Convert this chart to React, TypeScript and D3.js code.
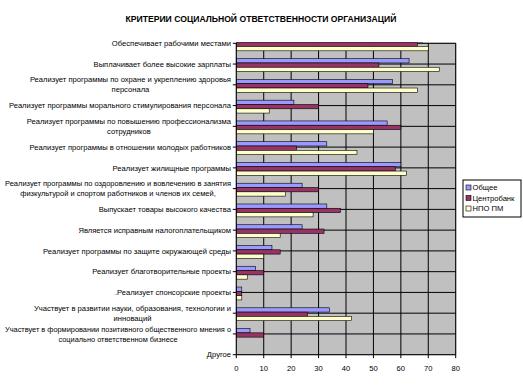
import React from 'react';
import * as d3 from 'd3';

// категории сверху вниз, подписи разбиты на строки как в оригинале
const categoryLabels: string[][] = [
    ['Обеспечивает рабочими местами'],
    ['Выплачивает более высокие зарплаты'],
    ['Реализует программы по охране и укреплению здоровья', 'персонала'],
    ['Реализует программы морального стимулирования персонала'],
    ['Реализует программы по повышению профессионализма', 'сотрудников'],
    ['Реализует программы в отношении молодых работников'],
    ['Реализует жилищные программы'],
    ['Реализует программы по оздоровлению и вовлечению в занятия', 'физкультурой и спортом работников и членов их семей,'],
    ['Выпускает товары высокого качества'],
    ['Является исправным налогоплательщиком'],
    ['Реализует программы по защите окружающей среды'],
    ['Реализует благотворительные проекты'],
    ['.Реализует спонсорские проекты'],
    ['Участвует в развитии науки, образования, технологии и', 'инноваций'],
    ['Участвует в формировании позитивного общественного мнения о', 'социально ответственном бизнесе'],
    ['Другое'],
];
const categories = categoryLabels.map(l => l.join(' '));

const obshee = [68, 63, 57, 21, 55, 33, 60, 24, 33, 24, 13, 7, 2, 34, 5, 0];
const centrobank = [66, 52, 48, 30, 60, 22, 58, 30, 38, 32, 16, 10, 2, 26, 10, 0];
const npoPm = [70, 74, 66, 12, 50, 44, 62, 18, 28, 16, 10, 4, 2, 42, 0, 0];

const seriesNames = ['Общее', 'Центробанк', 'НПО ПМ'];
const seriesColors = ['#9999FF', '#993366', '#FFFFCC'];
const xTicks = [0, 10, 20, 30, 40, 50, 60, 70, 80];

const W = 523;
const H = 386;
const plot = { left: 236.3, right: 455.7, top: 43.3, bottom: 354.7 };
const FONT = '"Liberation Sans", Arial, sans-serif';
const LABEL_SIZE = 7.6;
const LABEL_RIGHT = 231;
const LABEL_MAX_W = 226;

export default function App() {
    const x = d3.scaleLinear().domain([0, 80]).range([plot.left, plot.right]);
    const y = d3.scalePoint<string>().domain(categories).range([plot.top, plot.bottom]);
    const series = [obshee, centrobank, npoPm];
    const barH = 4.3;
    const groupOffset = -5.4;

    return (
        <svg width={W} height={H} style={{ position: 'absolute', left: 0, top: 0, background: '#fff' }}
            fontFamily={FONT}>
            <defs>
                <clipPath id="plotClip">
                    <rect x={plot.left} y={plot.top - 1} width={plot.right - plot.left + 2} height={plot.bottom - plot.top + 2} />
                </clipPath>
            </defs>

            <text x={261} y={22} textAnchor="middle" fontSize={9} fontWeight="bold" fill="#000"
                textLength={271} lengthAdjust="spacingAndGlyphs">
                КРИТЕРИИ СОЦИАЛЬНОЙ ОТВЕТСТВЕННОСТИ ОРГАНИЗАЦИЙ
            </text>

            {/* область построения */}
            <rect x={plot.left} y={plot.top} width={plot.right - plot.left} height={plot.bottom - plot.top}
                fill="#C0C0C0" stroke="#808080" strokeWidth={1} />

            {xTicks.slice(1).map(t => (
                <line key={'vx' + t} x1={x(t)} x2={x(t)} y1={plot.top} y2={plot.bottom} stroke="#000" strokeWidth={1} />
            ))}
            {categories.slice(0, -1).map(c => (
                <line key={'hz' + c} x1={plot.left} x2={plot.right} y1={y(c)} y2={y(c)} stroke="#000" strokeWidth={1} />
            ))}

            <g clipPath="url(#plotClip)">
                {categories.map((c, i) => series.map((s, k) => (
                    s[i] > 0 ? (
                        <rect key={c + k} x={x(0)} y={(y(c) as number) + groupOffset + k * barH}
                            width={x(s[i]) - x(0)} height={barH}
                            fill={seriesColors[k]} stroke="#000" strokeWidth={0.6} />
                    ) : null
                )))}
            </g>

            {/* оси */}
            <line x1={plot.left} x2={plot.left} y1={plot.top} y2={plot.bottom} stroke="#000" strokeWidth={1} />
            <line x1={plot.left} x2={plot.right} y1={plot.bottom} y2={plot.bottom} stroke="#000" strokeWidth={1} />

            {categories.map((c, i) => {
                const lines = categoryLabels[i];
                const cy = y(c) as number;
                const lh = 10;
                const y0 = cy - ((lines.length - 1) * lh) / 2;
                return (
                    <g key={'lab' + c}>
                        <line x1={plot.left - 3.5} x2={plot.left} y1={cy} y2={cy} stroke="#000" strokeWidth={1} />
                        {lines.length === 1 ? (
                            <text x={LABEL_RIGHT} y={cy} dy="0.35em" textAnchor="end" fontSize={LABEL_SIZE} fill="#000">{lines[0]}</text>
                        ) : (
                            <text x={LABEL_RIGHT} y={y0} dy="0.35em" textAnchor="middle" fontSize={LABEL_SIZE} fill="#000"
                                ref={el => {
                                    if (!el) return;
                                    // строки по центру самой длинной, её правый край у оси
                                    const tspans = Array.from(el.querySelectorAll('tspan')) as SVGTSpanElement[];
                                    let maxW = d3.max(tspans, t => t.getComputedTextLength()) || 0;
                                    if (maxW > LABEL_MAX_W) {
                                        el.setAttribute('font-size', String(LABEL_SIZE * LABEL_MAX_W / maxW));
                                        maxW = d3.max(tspans, t => t.getComputedTextLength()) || 0;
                                    }
                                    tspans.forEach(t => t.setAttribute('x', String(LABEL_RIGHT - maxW / 2)));
                                }}>
                                {lines.map((ln, j) => (
                                    <tspan key={j} x={LABEL_RIGHT} y={y0 + j * lh} dy="0.35em">{ln}</tspan>
                                ))}
                            </text>
                        )}
                    </g>
                );
            })}

            {xTicks.map(t => (
                <g key={'xt' + t}>
                    <line x1={x(t)} x2={x(t)} y1={plot.bottom} y2={plot.bottom + 3.5} stroke="#000" strokeWidth={1} />
                    <text x={x(t)} y={368} dy="0.35em" textAnchor="middle" fontSize={LABEL_SIZE} fill="#000">{t}</text>
                </g>
            ))}

            {/* легенда */}
            <g transform="translate(463,180)">
                <rect x={0} y={0} width={58} height={37} fill="#fff" stroke="#000" strokeWidth={1} />
                {seriesNames.map((n, k) => (
                    <g key={n} transform={`translate(3,${7.5 + k * 10.5})`}>
                        <rect x={0} y={-2.5} width={5} height={5} fill={seriesColors[k]} stroke="#000" strokeWidth={0.6} />
                        <text x={6.5} y={0} dy="0.35em" fontSize={LABEL_SIZE} fill="#000">{n}</text>
                    </g>
                ))}
            </g>
        </svg>
    );
}
